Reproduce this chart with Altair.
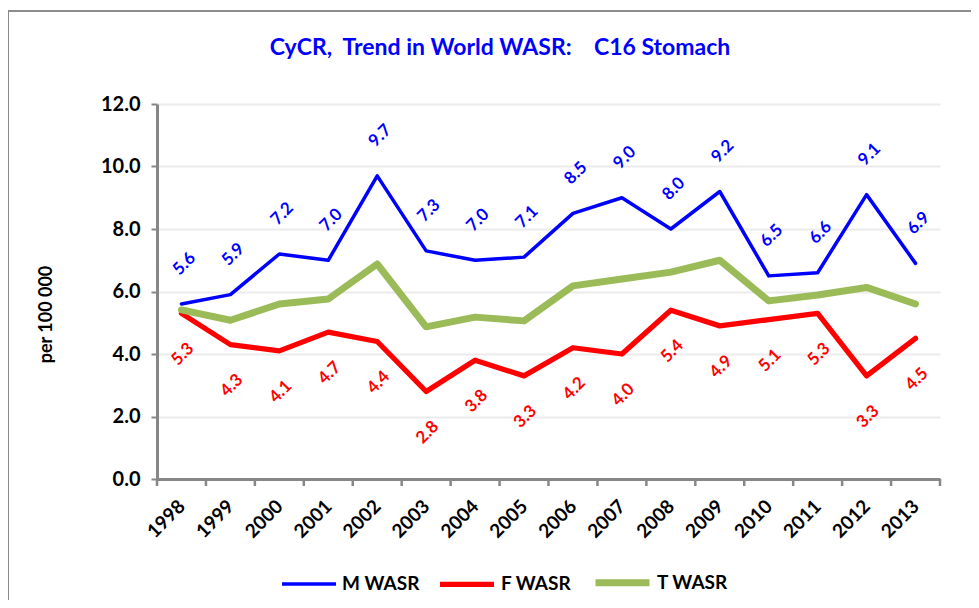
import altair as alt
import pandas as pd

years = list(range(1998, 2014))
m_wasr = [5.6, 5.9, 7.2, 7.0, 9.7, 7.3, 7.0, 7.1, 8.5, 9.0, 8.0, 9.2, 6.5, 6.6, 9.1, 6.9]
f_wasr = [5.3, 4.3, 4.1, 4.7, 4.4, 2.8, 3.8, 3.3, 4.2, 4.0, 5.4, 4.9, 5.1, 5.3, 3.3, 4.5]
t_wasr = [5.41, 5.08, 5.6, 5.76, 6.88, 4.87, 5.18, 5.06, 6.18, 6.4, 6.62, 7.0, 5.7, 5.89, 6.13, 5.6]
series = ["M WASR", "F WASR", "T WASR"]
colors = ["#0000FF", "#FF0000", "#9BBB59"]
widths = [3.5, 7, 5.5]
y_ticks = [0, 2, 4, 6, 8, 10, 12]
tick_bounds = [y - 0.5 for y in years] + [years[-1] + 0.5]
title_text = "CyCR,\u00a0\u00a0Trend in World WASR:\u00a0\u00a0\u00a0\u00a0C16 Stomach"
y_title = "per 100\u00a0000"

rows = []
for s, vals in zip(series, [m_wasr, f_wasr, t_wasr]):
    for yr, v in zip(years, vals):
        rows.append({"year": yr, "series": s, "value": v})
df = pd.DataFrame(rows)

FONT = "Lato"
GRAY = "#878787"
W, H = 783, 375

xscale = alt.Scale(domain=[1997.5, 2013.5], nice=False, zero=False)
yscale = alt.Scale(domain=[0, 12], nice=False, zero=True)

x_enc = alt.X("year:Q", scale=xscale, axis=alt.Axis(
    values=years, format="d", labelAngle=315, labelAlign="right", labelBaseline="middle",
    ticks=False, labelPadding=24, labelFont=FONT, labelFontSize=19, labelFontWeight="bold",
    labelColor="black", domainColor=GRAY, domainWidth=3, grid=False, title=None,
    labelFlush=False, labelOverlap=False))
y_enc = alt.Y("value:Q", scale=yscale, axis=alt.Axis(
    values=y_ticks, format=".1f", labelFont=FONT, labelFontSize=20, labelFontWeight="bold",
    labelColor="black", labelPadding=11, domainColor=GRAY, domainWidth=3,
    tickColor=GRAY, tickSize=6, tickWidth=2, gridColor="#EBEBEB", gridWidth=2,
    title=y_title, titleFont=FONT, titleFontSize=18, titleFontWeight="bold", titleColor="black",
    titleX=-111, titleY=210, titleAlign="center", titleBaseline="middle", titleAngle=270))

legend = alt.Legend(title=None, orient="none", legendX=123, legendY=448, direction="horizontal",
                    symbolType="stroke", symbolSize=2916, labelFont=FONT, labelFontSize=19,
                    labelFontWeight="bold", labelColor="black", labelOffset=4, columnPadding=9)

lines = alt.Chart(df).mark_line(strokeCap="round", strokeJoin="round").encode(
    x=x_enc, y=y_enc,
    color=alt.Color("series:N", scale=alt.Scale(domain=series, range=colors), legend=legend),
    strokeWidth=alt.StrokeWidth("series:N", scale=alt.Scale(domain=series, range=widths), legend=legend),
)

ticks = alt.Chart(pd.DataFrame({"b": tick_bounds})).mark_rule(color=GRAY, strokeWidth=2.5).encode(
    x=alt.X("b:Q", scale=xscale), y=alt.value(H), y2=alt.value(H + 7))

m_labels = alt.Chart(df).transform_filter(alt.datum.series == "M WASR").mark_text(
    angle=315, dx=30.4, dy=-26.2, font=FONT, fontSize=17, fontWeight="bold", color="#0000FF",
    align="center", baseline="middle").encode(
    x=alt.X("year:Q", scale=xscale), y=alt.Y("value:Q", scale=yscale),
    text=alt.Text("value:Q", format=".1f"))

f_labels = alt.Chart(df).transform_filter(alt.datum.series == "F WASR").mark_text(
    angle=315, dx=-28, dy=30, font=FONT, fontSize=17, fontWeight="bold", color="#FF0000",
    align="center", baseline="middle").encode(
    x=alt.X("year:Q", scale=xscale), y=alt.Y("value:Q", scale=yscale),
    text=alt.Text("value:Q", format=".1f"))

one = pd.DataFrame({"t": [title_text]})
title = alt.Chart(one).mark_text(font=FONT, fontSize=23, fontWeight="bold", color="#0000FF",
                                 align="center", baseline="middle").encode(
    text="t:N", x=alt.value(343), y=alt.value(-56))

frame = alt.Chart(one).mark_rect(fillOpacity=0, stroke="#8C8C8C", strokeWidth=2).encode(
    x=alt.value(-149), x2=alt.value(1000), y=alt.value(-93), y2=alt.value(800))

chart = alt.layer(frame, title, ticks, lines, m_labels, f_labels).properties(
    width=W, height=H,
    autosize=alt.AutoSizeParams(type="none"),
    padding={"left": 149, "top": 96, "right": 31, "bottom": 121},
).configure_view(stroke=None)

chart.save("out.html", embed_options={"renderer": "svg", "actions": False})
